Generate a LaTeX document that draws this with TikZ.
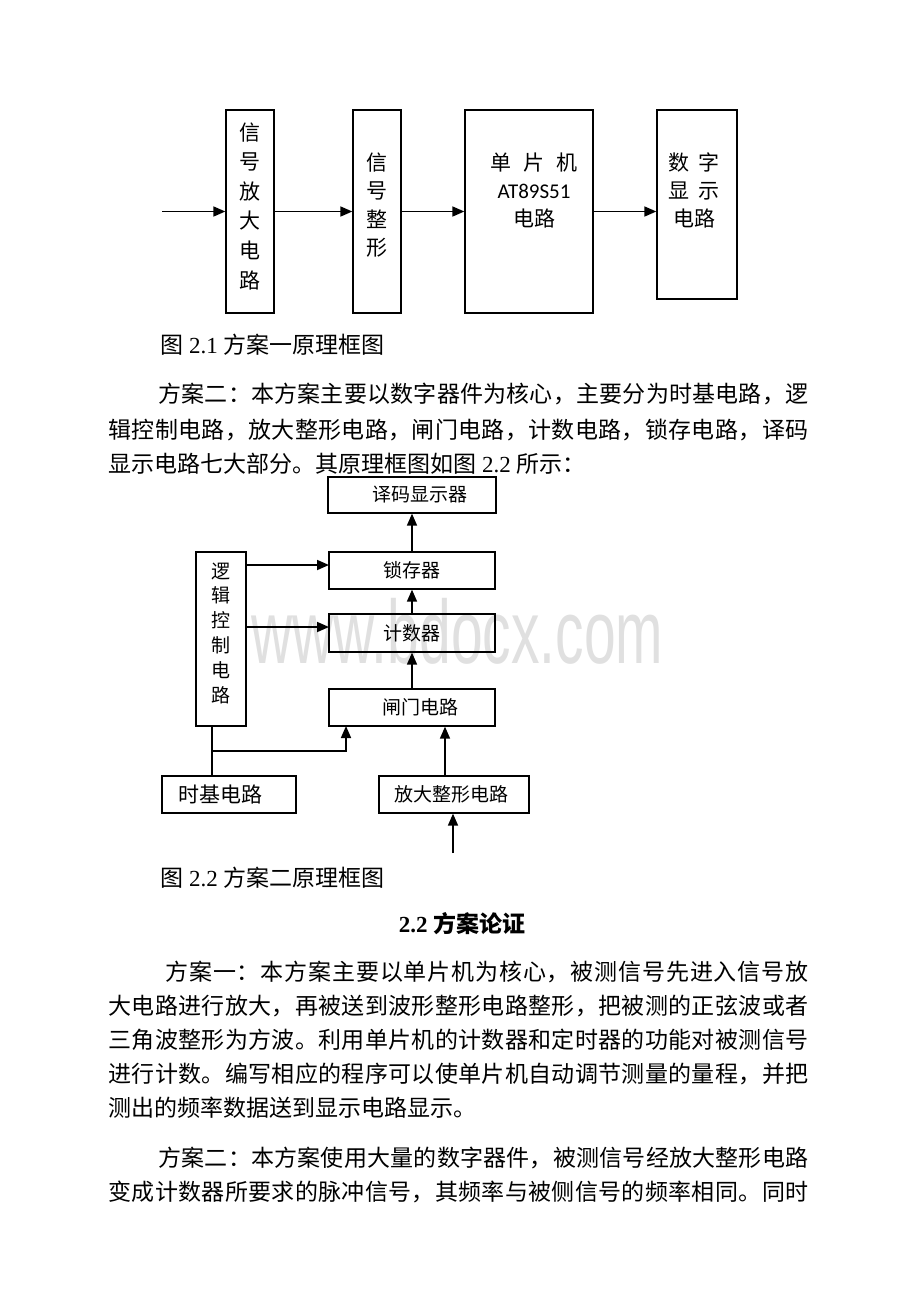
\documentclass[tikz,border=0pt]{standalone}
\usepackage{fontspec}
\usepackage{graphicx}
\setmainfont{Liberation Serif}
\newfontfamily\cjk{Noto Sans CJK SC}
\newfontfamily\wmfont{Liberation Sans}
\newfontfamily\latinsans{Carlito}
\usetikzlibrary{arrows.meta, positioning}

\newcommand\bodyfont{\cjk\fontsize{11.5}{14}\selectfont}
\newcommand\dfont{\cjk\fontsize{9.5}{12}\selectfont}
\makeatletter
\newcommand\fullline[2]{\hbox to #1{\@tfor\jch:=#2\do{\jch\hfil}\unskip}}
\makeatother

\begin{document}
\begin{tikzpicture}[x=1pt, y=-1pt, >={Triangle[length=6pt, width=5pt]},
		blk/.style={draw, rectangle, inner sep=0pt, line width=0.65pt},
		wire/.style={line width=0.85pt},
		txt/.style={inner sep=0pt, anchor=west, font=\bodyfont},
		lbl/.style={inner sep=0pt, align=center}]
		\useasboundingbox[fill=white] (0,0) rectangle (460,651);
	
		\node[inner sep=0pt, anchor=base, text=black!12, font=\wmfont\fontsize{45}{45}\selectfont] (wm) at (228.75,331.5) {\scalebox{0.633}[1]{www.bdocx.com}};
	
		% fig 2.1
		\coordinate (in1) at (81,105.75);
		\node[blk, minimum width=24pt, minimum height=101.5pt] (amp) at (125,105.75) {};
		\node[blk, minimum width=24pt, minimum height=101.5pt] (shape) at (188.5,105.75) {};
		\node[blk, minimum width=64pt, minimum height=101.5pt] (mcu) at (264.5,105.75) {};
		\node[blk, minimum width=40pt, minimum height=94.5pt] (disp) at (348.5,102.25) {};
	
		\node[lbl, font=\cjk\fontsize{10.5}{14.8}\selectfont] (amptext) at (125,103) {信\\号\\放\\大\\电\\路};
		\node[lbl, font=\cjk\fontsize{10.5}{14.3}\selectfont] (shapetext) at (188.5,102.5) {信\\号\\整\\形};
		\node[lbl, font=\cjk\fontsize{10.5}{14}\selectfont] (mcutext) at (267,95) {单\hspace{6pt}片\hspace{6pt}机\\{\latinsans AT89S51}\\电路};
		\node[lbl, font=\cjk\fontsize{10.5}{14}\selectfont] (disptext) at (347,95) {数\hspace{4.5pt}字\\显\hspace{4.5pt}示\\电路};
	
		\draw[->, wire] (in1) -- (amp);
		\draw[->, wire] (amp) -- (shape);
		\draw[->, wire] (shape) -- (mcu);
		\draw[->, wire] (mcu.east) -- (mcu.east -| disp.west);
	
		\node[txt, font=\fontsize{11.5}{14}\selectfont] (cap1) at (80,172.5) {{\cjk 图} 2.1 {\cjk 方案一原理框图}};
	
		\node[txt] (pa1) at (79,197) {\fullline{325pt}{方案二：本方案主要以数字器件为核心，主要分为时基电路，逻}};
		\node[txt] (pa2) at (54,215) {\fullline{350pt}{辑控制电路，放大整形电路，闸门电路，计数电路，锁存电路，译码}};
		\node[txt, font=\fontsize{11.5}{14}\selectfont] (pa3) at (54,232) {{\cjk 显示电路七大部分。其原理框图如图} 2.2 {\cjk 所示：}};
	
		% fig 2.2
		\node[blk, minimum width=84pt, minimum height=18pt, font=\dfont] (decode) at (206,247.5) {\hspace*{8pt}译码显示器};
		\node[blk, minimum width=83pt, minimum height=18.5pt, font=\dfont] (latch) at (206,285.25) {锁存器};
		\node[blk, minimum width=83pt, minimum height=19pt, font=\dfont] (counter) at (206,316.5) {计数器};
		\node[blk, minimum width=83pt, minimum height=18.5pt, font=\dfont] (gate) at (206,353.75) {\hspace*{8pt}闸门电路};
		\node[blk, minimum width=25pt, minimum height=87pt] (logic) at (110.5,319.5) {};
		\node[lbl, font=\cjk\fontsize{9.5}{12.4}\selectfont] (logictext) at (110.5,316.5) {逻\\辑\\控\\制\\电\\路};
		\node[blk, minimum width=67pt, minimum height=18.5pt, font=\cjk\fontsize{10.5}{12}\selectfont] (timebase) at (114.5,397.25) {时基电路\hspace*{9pt}};
		\node[blk, minimum width=75pt, minimum height=18.5pt, font=\dfont] (ampshape) at (227,397.25) {放大整形电路\hspace*{3pt}};
	
		\coordinate (toLatch) at (164.5,282.5);
		\coordinate (toCounter) at (164.5,313.5);
		\coordinate (tap) at (106,375.5);
		\coordinate (gateIn) at (173,363);
		\coordinate (ampOut) at (222.5,388);
		\coordinate (in2) at (226.5,426.5);
	
		\draw[->, wire] (latch) -- (decode);
		\draw[->, wire] (counter) -- (latch);
		\draw[->, wire] (gate) -- (counter);
		\draw[->, wire] (toLatch -| logic.east) -- (toLatch);
		\draw[->, wire] (toCounter -| logic.east) -- (toCounter);
		\draw[wire] (logic.south -| tap) -- (timebase.north -| tap);
		\draw[->, wire] (tap) -| (gateIn);
		\draw[->, wire] (ampOut) -- (ampOut |- gate.south);
		\draw[->, wire] (in2) -- (in2 |- ampshape.south);
	
		\node[txt, font=\fontsize{11.5}{14}\selectfont] (cap2) at (80,439) {{\cjk 图} 2.2 {\cjk 方案二原理框图}};
		\node[inner sep=0pt, font=\bfseries\fontsize{11.5}{14}\selectfont] (head) at (231,462) {2.2 {\cjk 方案论证}};
	
		\node[txt] (pb1) at (82.5,486) {\fullline{321.5pt}{方案一：本方案主要以单片机为核心，被测信号先进入信号放}};
		\node[txt] (pb2) at (54,503) {\fullline{350pt}{大电路进行放大，再被送到波形整形电路整形，把被测的正弦波或者}};
		\node[txt] (pb3) at (54,520) {\fullline{350pt}{三角波整形为方波。利用单片机的计数器和定时器的功能对被测信号}};
		\node[txt] (pb4) at (54,537) {\fullline{350pt}{进行计数。编写相应的程序可以使单片机自动调节测量的量程，并把}};
		\node[txt] (pb5) at (54,554) {测出的频率数据送到显示电路显示。};
	
		\node[txt] (pc1) at (79,579) {\fullline{325pt}{方案二：本方案使用大量的数字器件，被测信号经放大整形电路}};
		\node[txt] (pc2) at (54,596) {\fullline{350pt}{变成计数器所要求的脉冲信号，其频率与被侧信号的频率相同。同时}};
	\end{tikzpicture}
\end{document}
